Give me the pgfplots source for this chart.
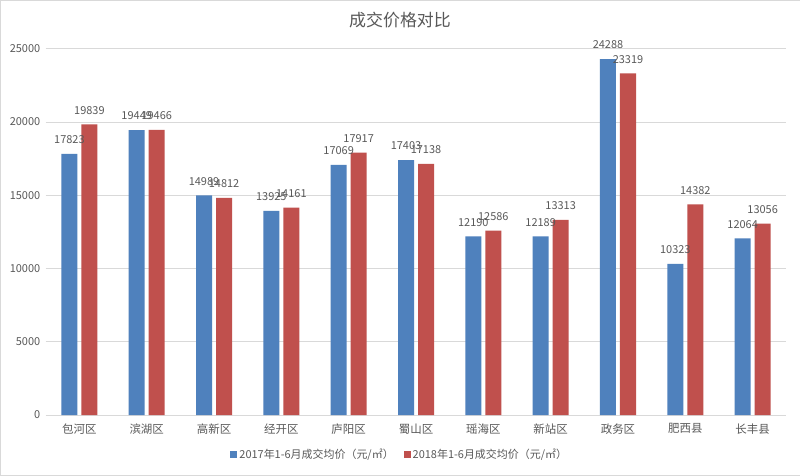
\documentclass[border=0pt]{standalone}
\usepackage{fontspec}
\setmainfont{Noto Sans CJK SC}
\usepackage{pgfplots}
\pgfplotsset{compat=1.18}
\definecolor{b1}{HTML}{4F81BD}
\definecolor{r1}{HTML}{C0504D}
\definecolor{txt}{HTML}{595959}
\definecolor{grd}{HTML}{D9D9D9}
\begin{document}
\begin{tikzpicture}[x=1bp,y=1bp]
\draw[fill=white, draw=grd] (0.5,0.5) rectangle (799.5,475.5);
\node[text=txt, font=\fontsize{17}{20}\selectfont] at (400,456) {成交价格对比};
\begin{axis}[
  at={(46bp,61bp)}, anchor=south west,
  scale only axis, width=740bp, height=366bp,
  ybar=4bp, bar width=16bp,
  xmin=-0.5, xmax=10.5, ymin=0, ymax=25000,
  ytick={0,5000,...,25000},
  scaled y ticks=false,
  xtick={0,...,10},
  xticklabels={包河区,滨湖区,高新区,经开区,庐阳区,蜀山区,瑶海区,新站区,政务区,肥西县,长丰县},
  ymajorgrids, grid style={grd, line width=0.8bp},
  axis line style={draw=none},
  major tick length=0pt,
  clip=false,
  /pgf/number format/assume math mode=true,
  /pgf/number format/1000 sep={},
  tick label style={text=txt, font=\fontsize{11}{13}\selectfont},
  xticklabel style={yshift=-5bp, font=\fontsize{11.5}{13}\selectfont},
  yticklabel style={xshift=-2bp},
  nodes near coords,
  every node near coord/.append style={text=txt, font=\fontsize{11}{13}\selectfont, yshift=6.5bp,
    /pgf/number format/assume math mode=true, /pgf/number format/1000 sep={}},
  legend columns=2,
  legend style={at={(0.478,-0.109)}, anchor=center, draw=none, fill=none,
    font=\fontsize{11}{13}\selectfont, text=txt,
    /tikz/every even column/.append style={column sep=8bp}},
  legend image code/.code={\fill[#1] (0bp,-3.5bp) rectangle (7bp,3.5bp);},
]
\addplot[fill=b1, draw=none] coordinates {(0,17823) (1,19449) (2,14989) (3,13925) (4,17069) (5,17403) (6,12190) (7,12189) (8,24288) (9,10323) (10,12064)};
\addplot[fill=r1, draw=none] coordinates {(0,19839) (1,19466) (2,14812) (3,14161) (4,17917) (5,17138) (6,12586) (7,13313) (8,23319) (9,14382) (10,13056)};
\legend{2017年1-6月成交均价（元/㎡）,2018年1-6月成交均价（元/㎡）}
\end{axis}
\end{tikzpicture}
\end{document}
